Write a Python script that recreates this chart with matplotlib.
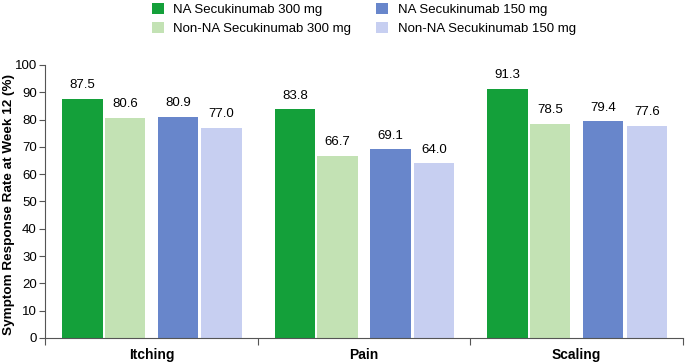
import numpy as np
import matplotlib
matplotlib.use('Agg')
import matplotlib.pyplot as plt

categories = ['Itching', 'Pain', 'Scaling']
series = ['NA Secukinumab 300 mg', 'Non-NA Secukinumab 300 mg',
          'NA Secukinumab 150 mg', 'Non-NA Secukinumab 150 mg']
na300 = [87.5, 83.8, 91.3]
nonna300 = [80.6, 66.7, 78.5]
na150 = [80.9, 69.1, 79.4]
nonna150 = [77.0, 64.0, 77.6]
values = [na300, nonna300, na150, nonna150]

colors = ['#14a03a', '#c3e2b4', '#6886cb', '#c7cff1']
offsets = [-0.325, -0.125, 0.125, 0.33]
width = 0.19

plt.rcParams['font.family'] = ['Liberation Sans', 'DejaVu Sans']
fig = plt.figure(figsize=(6.85, 3.63), dpi=100)
ax = fig.add_axes([0.066, 0.069, 0.931, 0.752])

x = np.arange(len(categories)) + 0.5
for vals, off, col, lab in zip(values, offsets, colors, series):
    bars = ax.bar(x + off, vals, width, color=col, label=lab)
    for b, v in zip(bars, vals):
        ax.text(b.get_x() + b.get_width() / 2, v + 2.8, '%.1f' % v,
                ha='center', va='bottom', fontsize=9.5)

ax.set_xlim(0, 3)
ax.set_ylim(0, 100)
ax.set_yticks(range(0, 101, 10))
ax.set_xticks([0, 1, 2, 3])
ax.set_xticklabels([])
ax.set_xticks(x, minor=True)
ax.set_xticklabels(categories, minor=True, fontweight='bold', fontsize=10)
ax.tick_params(axis='x', which='minor', length=0, pad=7)
ax.tick_params(axis='x', which='major', length=5, color='#555555')
ax.tick_params(axis='y', length=4, color='#555555', labelsize=9.5, pad=2)
for s in ['top', 'right']:
    ax.spines[s].set_visible(False)
for s in ['left', 'bottom']:
    ax.spines[s].set_color('#555555')
ax.set_ylabel('Symptom Response Rate at Week 12 (%)', fontweight='bold',
              fontsize=9.7)
ax.yaxis.set_label_coords(-0.048, 0.49)

fig.legend(loc='upper left', bbox_to_anchor=(0.205, 1.025), ncol=2,
           frameon=False, fontsize=9.5, handlelength=0.9, handleheight=0.9,
           columnspacing=1.9, handletextpad=0.7, labelspacing=0.45)

fig.savefig('out.png', dpi=100)
